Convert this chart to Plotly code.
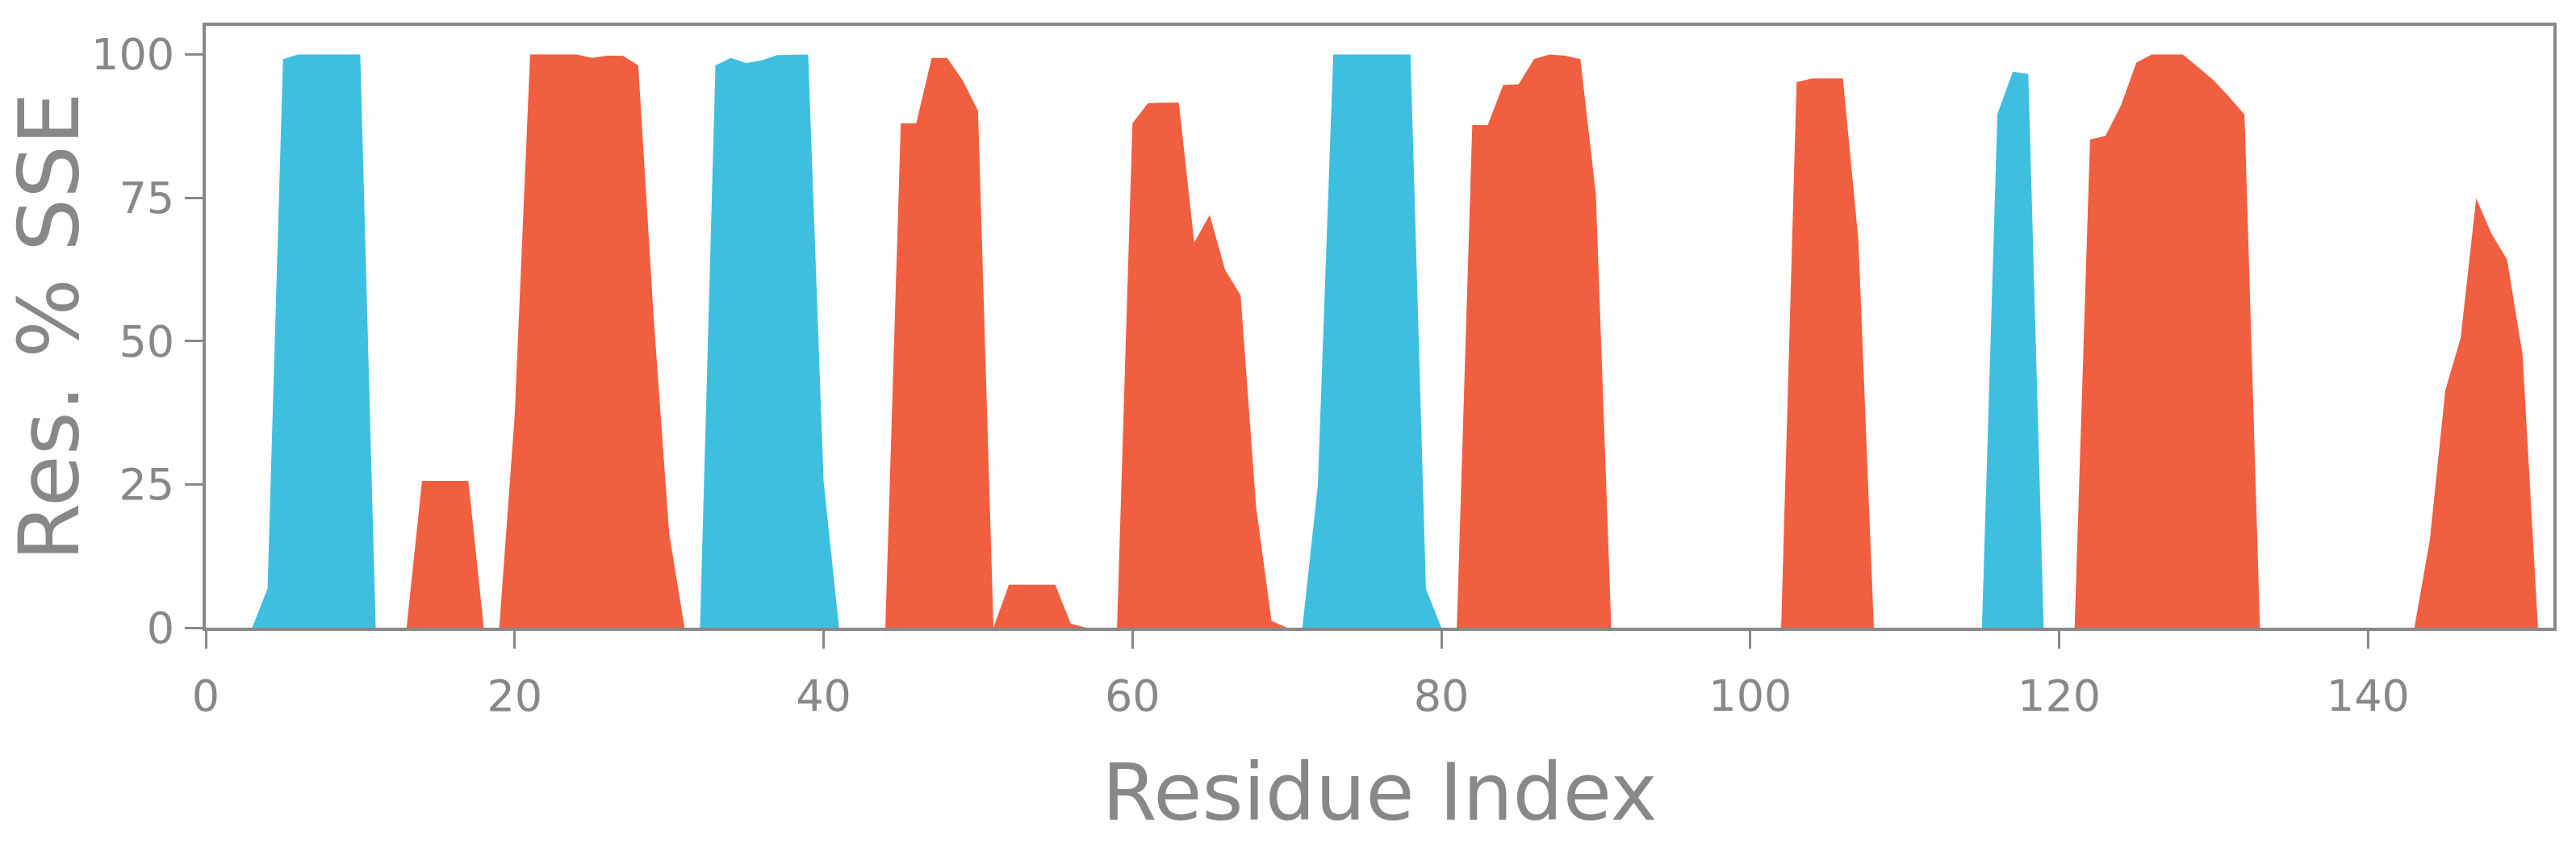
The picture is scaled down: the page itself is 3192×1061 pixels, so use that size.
"""
Secondary structure element (SSE) profile per residue.
Blue = helix, red/orange = strand.
"""

import plotly.graph_objects as go

# residue numbers 1..151
residues = list(range(1, 152))

# % helix per residue
helix = [
    0, 0, 0, 6.8, 99.2, 100, 100, 100, 100, 100,          # 1-10
    0, 0, 0, 0, 0, 0, 0, 0, 0, 0,                          # 11-20
    0, 0, 0, 0, 0, 0, 0, 0, 0, 0,                          # 21-30
    0, 0, 98.1, 99.4, 98.5, 99.0, 99.9, 100, 100, 25.6,    # 31-40
    0, 0, 0, 0, 0, 0, 0, 0, 0, 0,                          # 41-50
    0, 0, 0, 0, 0, 0, 0, 0, 0, 0,                          # 51-60
    0, 0, 0, 0, 0, 0, 0, 0, 0, 0,                          # 61-70
    0, 24.8, 100, 100, 100, 100, 100, 100, 6.8, 0,         # 71-80
    0, 0, 0, 0, 0, 0, 0, 0, 0, 0,                          # 81-90
    0, 0, 0, 0, 0, 0, 0, 0, 0, 0,                          # 91-100
    0, 0, 0, 0, 0, 0, 0, 0, 0, 0,                          # 101-110
    0, 0, 0, 0, 0, 89.6, 97.0, 96.6, 0, 0,                 # 111-120
    0, 0, 0, 0, 0, 0, 0, 0, 0, 0,                          # 121-130
    0, 0, 0, 0, 0, 0, 0, 0, 0, 0,                          # 131-140
    0, 0, 0, 0, 0, 0, 0, 0, 0, 0,                          # 141-150
    0,                                                     # 151
]

# % strand per residue
strand = [
    0, 0, 0, 0, 0, 0, 0, 0, 0, 0,                          # 1-10
    0, 0, 0, 25.6, 25.6, 25.6, 25.6, 0, 0, 37.0,           # 11-20
    100, 100, 100, 100, 99.4, 99.8, 99.8, 98.1, 54.0, 16.5,  # 21-30
    0, 0, 0, 0, 0, 0, 0, 0, 0, 0,                          # 31-40
    0, 0, 0, 0, 88.0, 88.0, 99.4, 99.4, 95.5, 90.2,        # 41-50
    0, 7.5, 7.5, 7.5, 7.5, 0.7, 0, 0, 0, 88.0,             # 51-60
    91.5, 91.6, 91.6, 67.2, 72.0, 62.4, 58.0, 21.2, 1.2, 0,  # 61-70
    0, 0, 0, 0, 0, 0, 0, 0, 0, 0,                          # 71-80
    0, 87.7, 87.7, 94.7, 94.8, 99.2, 100, 99.8, 99.2, 75.7,  # 81-90
    0, 0, 0, 0, 0, 0, 0, 0, 0, 0,                          # 91-100
    0, 0, 95.2, 95.8, 95.8, 95.8, 67.6, 0, 0, 0,           # 101-110
    0, 0, 0, 0, 0, 0, 0, 0, 0, 0,                          # 111-120
    0, 85.2, 85.8, 91.1, 98.6, 100, 100, 100, 97.8, 95.5,  # 121-130
    92.6, 89.5, 0, 0, 0, 0, 0, 0, 0, 0,                    # 131-140
    0, 0, 0, 15.3, 41.4, 50.6, 74.9, 68.7, 64.2, 47.7,     # 141-150
    0,                                                     # 151
]

x_ticks = [0, 20, 40, 60, 80, 100, 120, 140]
y_ticks = [0, 25, 50, 75, 100]

HELIX_COLOR = "#3FBFDF"
STRAND_COLOR = "#EF5F40"
GREY = "#888888"

fig = go.Figure()

fig.add_trace(go.Scatter(
    x=residues, y=helix, mode="lines", fill="tozeroy",
    line=dict(width=0, color=HELIX_COLOR), fillcolor=HELIX_COLOR,
    name="Helix", hoverinfo="x+y",
))
fig.add_trace(go.Scatter(
    x=residues, y=strand, mode="lines", fill="tozeroy",
    line=dict(width=0, color=STRAND_COLOR), fillcolor=STRAND_COLOR,
    name="Strand", hoverinfo="x+y",
))

axis_common = dict(
    showgrid=False, zeroline=False,
    showline=True, linecolor=GREY, linewidth=4, mirror=True,
    ticks="outside", ticklen=22, tickwidth=3, tickcolor=GREY,
    tickfont=dict(family="DejaVu Sans", size=54, color=GREY),
)

fig.update_layout(
    width=3192, height=1061,
    margin=dict(l=255, r=28, t=32, b=283),
    paper_bgcolor="white", plot_bgcolor="white",
    showlegend=False,
    xaxis=dict(
        range=[0, 152], tickvals=x_ticks,
        ticklabelstandoff=12,
        title=dict(text="Residue Index", standoff=56,
                   font=dict(family="DejaVu Sans", size=98, color=GREY)),
        **axis_common,
    ),
    yaxis=dict(
        range=[0, 105], tickvals=y_ticks,
        ticklabelstandoff=2,
        title=dict(text="Res. % SSE", standoff=28,
                   font=dict(family="DejaVu Sans", size=104, color=GREY)),
        **axis_common,
    ),
)

fig.write_html("out.html", config={"displayModeBar": False},
               post_script="document.body.style.margin='0';")
